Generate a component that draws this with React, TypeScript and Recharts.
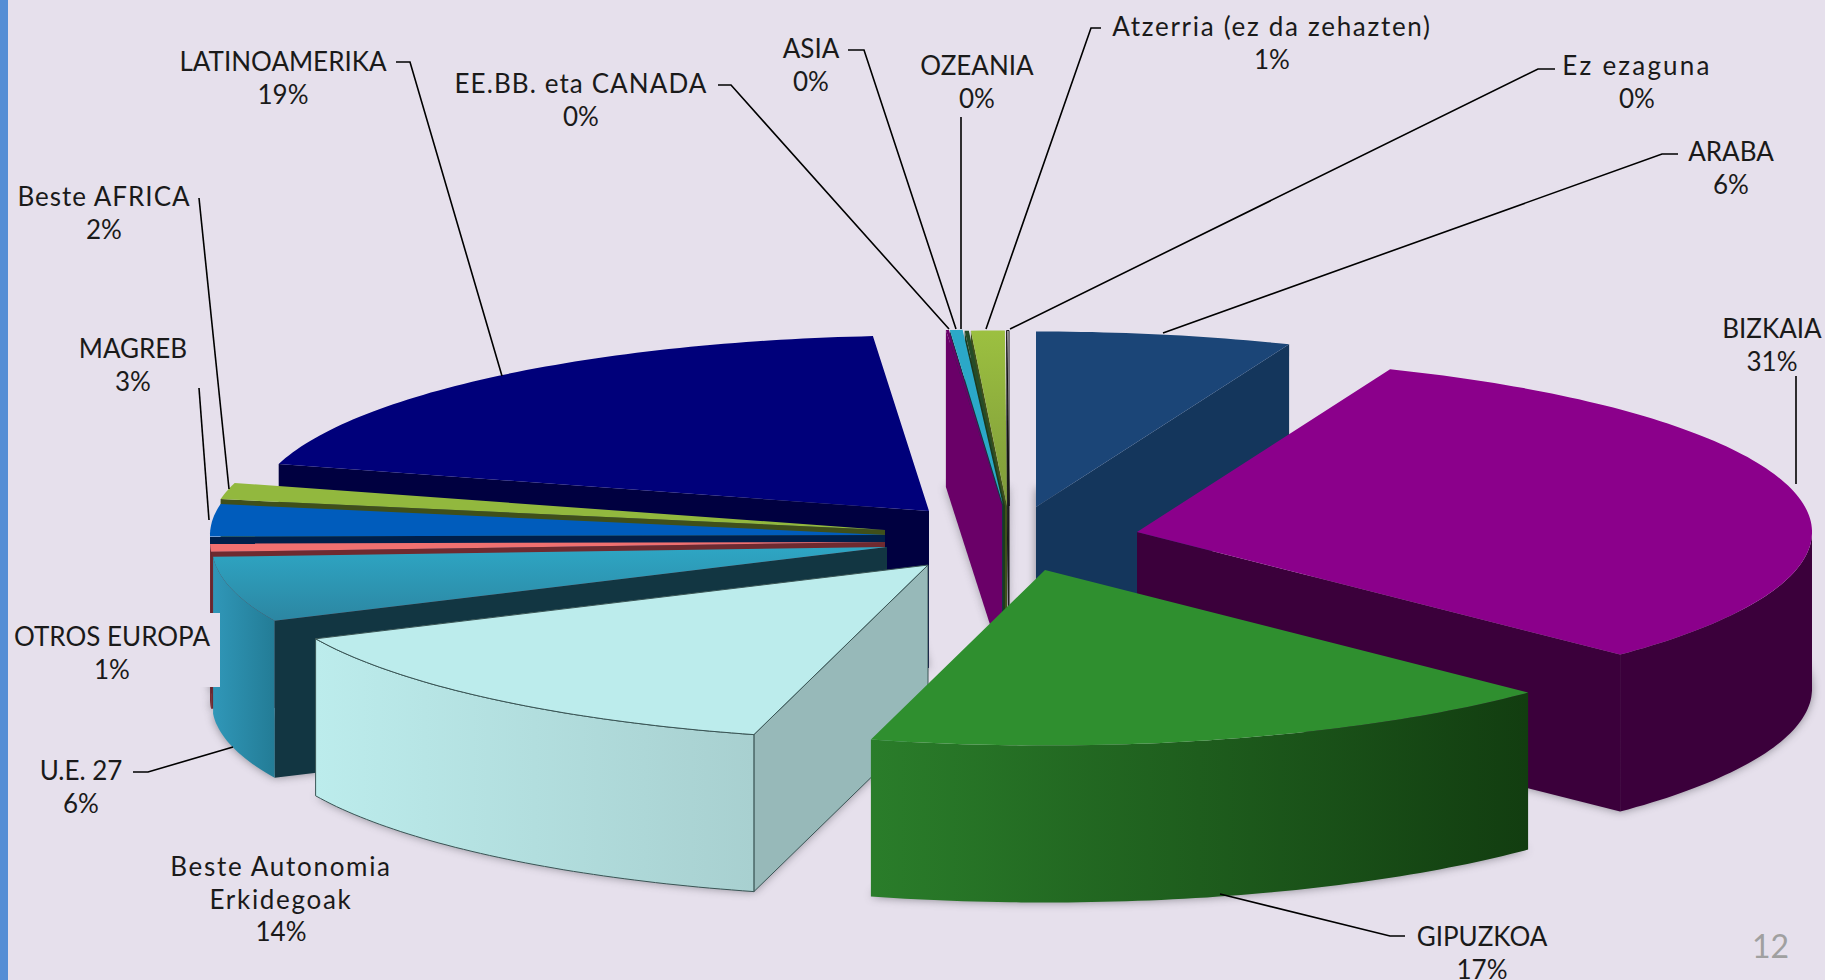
import React from 'react';
import { PieChart, Pie } from 'recharts';

// datos (los 0% son en realidad cuñas muy finas)
const sliceNames = [
  'ARABA', 'BIZKAIA', 'GIPUZKOA', 'Beste Autonomia Erkidegoak', 'U.E. 27', 'OTROS EUROPA', 'MAGREB',
  'Beste AFRICA', 'LATINOAMERIKA', 'EE.BB. eta CANADA', 'ASIA', 'OZEANIA', 'Atzerria (ez da zehazten)', 'Ez ezaguna',
];
const sliceValues = [6.1, 31.1, 16.8, 13.9, 6.0, 0.75, 2.95, 1.5, 19.3, 0.07, 0.3, 0.1, 0.8, 0.05];
const chartData = sliceNames.map((name, i) => ({ name, value: sliceValues[i] }));

// orden de pintado, de atras hacia delante
const drawOrder = [
  'LATINOAMERIKA', 'Beste AFRICA', 'MAGREB', 'OTROS EUROPA', 'U.E. 27', 'Ez ezaguna', 'Atzerria (ez da zehazten)',
  'OZEANIA', 'ASIA', 'EE.BB. eta CANADA', 'ARABA', 'BIZKAIA', 'Beste Autonomia Erkidegoak', 'GIPUZKOA',
];

const SQUASH = 0.26;
const DEPTH = 157;

// desplazamiento de cada cuña respecto al centro y colores de sus caras
const sliceStyle = {
  ARABA: { dx: 36, dy: 7, top: ['#1B4577', '#1B4577'], cut: '#14365C', outer: ['#14365C', '#14365C'] },
  BIZKAIA: { dx: 137, dy: 32, top: ['#8B008B', '#8B008B'], cut: '#3B003B', outer: ['#3B003B', '#3B003B'] },
  GIPUZKOA: { dx: 45, dy: 70, top: ['#2F8F2F', '#2F8F2F'], cut: '#1A5A1A', outer: ['#2A7D2A', '#123D10'] },
  'Beste Autonomia Erkidegoak': { dx: -72, dy: 65, top: ['#BCECEC', '#BCECEC'], cut: '#97B9B9', outer: ['#BCECEC', '#A8D0D0'], line: '#3A5555' },
  'U.E. 27': { dx: -113, dy: 47, top: ['#2EA6C4', '#2C86A2'], cut: '#123642', outer: ['#3097B8', '#237C96'] },
  'OTROS EUROPA': { dx: -115, dy: 42, top: ['#F07070', '#F07070'], cut: '#6E2A30', outer: ['#7A2E34', '#6E2A30'] },
  MAGREB: { dx: -115, dy: 35, top: ['#005CBC', '#005CBC'], cut: '#001F4A', outer: ['#001F4A', '#001F4A'] },
  'Beste AFRICA': { dx: -115, dy: 30, top: ['#92B83E', '#92B83E'], cut: '#3F4F1A', outer: ['#3F4F1A', '#3F4F1A'] },
  LATINOAMERIKA: { dx: -71, dy: 11, top: ['#00007A', '#00007A'], cut: '#000040', outer: ['#000040', '#000040'] },
  'EE.BB. eta CANADA': { dx: 2, dy: 5, top: ['#6A0068', '#6A0068'], cut: '#6A0068', outer: ['#6A0068', '#6A0068'] },
  ASIA: { dx: 3, dy: 5, top: ['#2BA8C8', '#2BA8C8'], cut: '#123642', outer: ['#123642', '#123642'] },
  OZEANIA: { dx: 5, dy: 6, top: ['#254B28', '#254B28'], cut: '#1C3A1E', outer: ['#1C3A1E', '#1C3A1E'] },
  'Atzerria (ez da zehazten)': { dx: 7, dy: 6, top: ['#9CC040', '#7E9A3A'], cut: '#3F4F1A', outer: ['#3F4F1A', '#3F4F1A'] },
  'Ez ezaguna': { dx: 9, dy: 6, top: ['#F4F0F6', '#F4F0F6'], cut: '#222222', outer: ['#222222', '#222222'], line: '#111111' },
};

// posicion de cada etiqueta y su linea guia
const labelLayout = {
  ARABA: { lines: ['ARABA'], x: 1731, y: 151, leader: '1678,154 1662,154 1163,333' },
  BIZKAIA: { lines: ['BIZKAIA'], x: 1772, y: 328, leader: '1796,376 1796,484' },
  GIPUZKOA: { lines: ['GIPUZKOA'], x: 1482, y: 936, leader: '1405,936 1390,936 1220,894' },
  'Beste Autonomia Erkidegoak': { lines: ['Beste Autonomia', 'Erkidegoak'], x: 281, y: 866, tracking: 1.7 },
  'U.E. 27': { lines: ['U.E. 27'], x: 81, y: 770, leader: '133,772 148,772 233,747' },
  'OTROS EUROPA': { lines: ['OTROS EUROPA'], x: 112, y: 636, box: true },
  MAGREB: { lines: ['MAGREB'], x: 133, y: 348, leader: '199,388 209,520' },
  'Beste AFRICA': { lines: ['Beste AFRICA'], x: 104, y: 196, leader: '199,198 229,489', tracking: 1 },
  LATINOAMERIKA: { lines: ['LATINOAMERIKA'], x: 283, y: 61, leader: '396,62 410,62 502,376' },
  'EE.BB. eta CANADA': { lines: ['EE.BB. eta CANADA'], x: 581, y: 83, leader: '718,85 731,85 949,329', tracking: 1.1 },
  ASIA: { lines: ['ASIA'], x: 811, y: 48, leader: '848,50 864,50 956,329' },
  OZEANIA: { lines: ['OZEANIA'], x: 977, y: 65, leader: '961,117 961,329' },
  'Atzerria (ez da zehazten)': { lines: ['Atzerria (ez da zehazten)'], x: 1272, y: 26, leader: '1101,28 1091,28 986,329', tracking: 1.7 },
  'Ez ezaguna': { lines: ['Ez ezaguna'], x: 1637, y: 65, leader: '1555,69 1538,69 1010,329', tracking: 2.2 },
};

const toPath = (pts) => pts.map((p, i) => `${i ? 'L' : 'M'}${p[0].toFixed(1)} ${p[1].toFixed(1)}`).join(' ') + ' Z';

// dibuja la cuña en pseudo 3D a partir de los angulos que calcula Recharts
const makeSlice = (only) => (props) => {
  const { name, cx, cy, outerRadius, startAngle, endAngle } = props;
  if (name !== only) return null;
  const st = sliceStyle[name];
  const ax = cx + st.dx;
  const ay = cy + st.dy;
  const pointAt = (deg) => {
    const r = (deg * Math.PI) / 180;
    return [ax + outerRadius * Math.cos(r), ay - outerRadius * SQUASH * Math.sin(r)];
  };
  const arc = [];
  const steps = Math.max(2, Math.ceil(startAngle - endAngle));
  for (let i = 0; i <= steps; i++) arc.push(startAngle + ((endAngle - startAngle) * i) / steps);
  const arcPts = arc.map(pointAt);
  const down = (p) => [p[0], p[1] + DEPTH];
  const apex = [ax, ay];
  const first = arcPts[0];
  const last = arcPts[arcPts.length - 1];
  const front = arc.filter((a) => Math.sin((a * Math.PI) / 180) <= 0).map(pointAt);
  const line = st.line || 'none';
  const idx = sliceNames.indexOf(name);
  return (
    <g>
      <defs>
        <linearGradient id={`outer-${idx}`} x1="0" y1="0" x2="1" y2="0">
          <stop offset="0%" stopColor={st.outer[0]} />
          <stop offset="100%" stopColor={st.outer[1]} />
        </linearGradient>
        <linearGradient id={`top-${idx}`} x1="0" y1="0" x2="0" y2="1">
          <stop offset="0%" stopColor={st.top[0]} />
          <stop offset="100%" stopColor={st.top[1]} />
        </linearGradient>
      </defs>
      <path d={toPath([apex, ...arcPts].map(down))} fill="#3c3c44" opacity={0.55} style={{ filter: 'blur(5px)' }} />
      {first[0] < ax && <path d={toPath([apex, first, down(first), down(apex)])} fill={st.cut} stroke={line} strokeWidth={1} />}
      {last[0] > ax && <path d={toPath([apex, last, down(last), down(apex)])} fill={st.cut} stroke={line} strokeWidth={1} />}
      {front.length > 1 && (
        <path d={toPath([...front, ...front.map(down).reverse()])} fill={`url(#outer-${idx})`} stroke={line} strokeWidth={1} />
      )}
      <path d={toPath([apex, ...arcPts])} fill={`url(#top-${idx})`} stroke={line} strokeWidth={1} />
    </g>
  );
};

const renderLabel = ({ name, value }) => {
  const l = labelLayout[name];
  const all = [...l.lines, `${Math.round(value)}%`];
  return (
    <g key={name}>
      {l.box && <rect x={8} y={613} width={212} height={74} fill="#E6E0EC" />}
      {l.leader && <polyline points={l.leader} fill="none" stroke="#000" strokeWidth={1.6} />}
      <text x={l.x} y={l.y + 10} textAnchor="middle" fontFamily="Lato" fontSize={26} fill="#1a1a1a">
        {all.map((t, i) => (
          <tspan key={t} x={l.x} dy={i ? 32.5 : 0} letterSpacing={i < l.lines.length ? l.tracking || 0 : 0}>{t}</tspan>
        ))}
      </text>
    </g>
  );
};

export default function App() {
  return (
    <div style={{ position: 'absolute', left: 0, top: 0, width: 1825, height: 980, background: '#E6E0EC', overflow: 'hidden' }}>
      <div style={{ position: 'absolute', left: 0, top: 0, width: 8, height: 980, background: '#558ED5' }} />
      <PieChart width={1825} height={980} margin={{ top: 0, right: 0, bottom: 0, left: 0 }}>
        {drawOrder.map((n, i) => (
          <Pie
            key={n}
            data={chartData}
            dataKey="value"
            nameKey="name"
            cx={1000}
            cy={500}
            outerRadius={675}
            startAngle={90}
            endAngle={-270}
            paddingAngle={0}
            stroke="none"
            shape={makeSlice(n)}
            label={i === drawOrder.length - 1 ? renderLabel : false}
            labelLine={false}
            isAnimationActive={false}
          />
        ))}
      </PieChart>
      <div style={{ position: 'absolute', left: 1752, top: 926, fontFamily: 'Lato', fontSize: 32, color: '#A0A0A0' }}>12</div>
    </div>
  );
}
